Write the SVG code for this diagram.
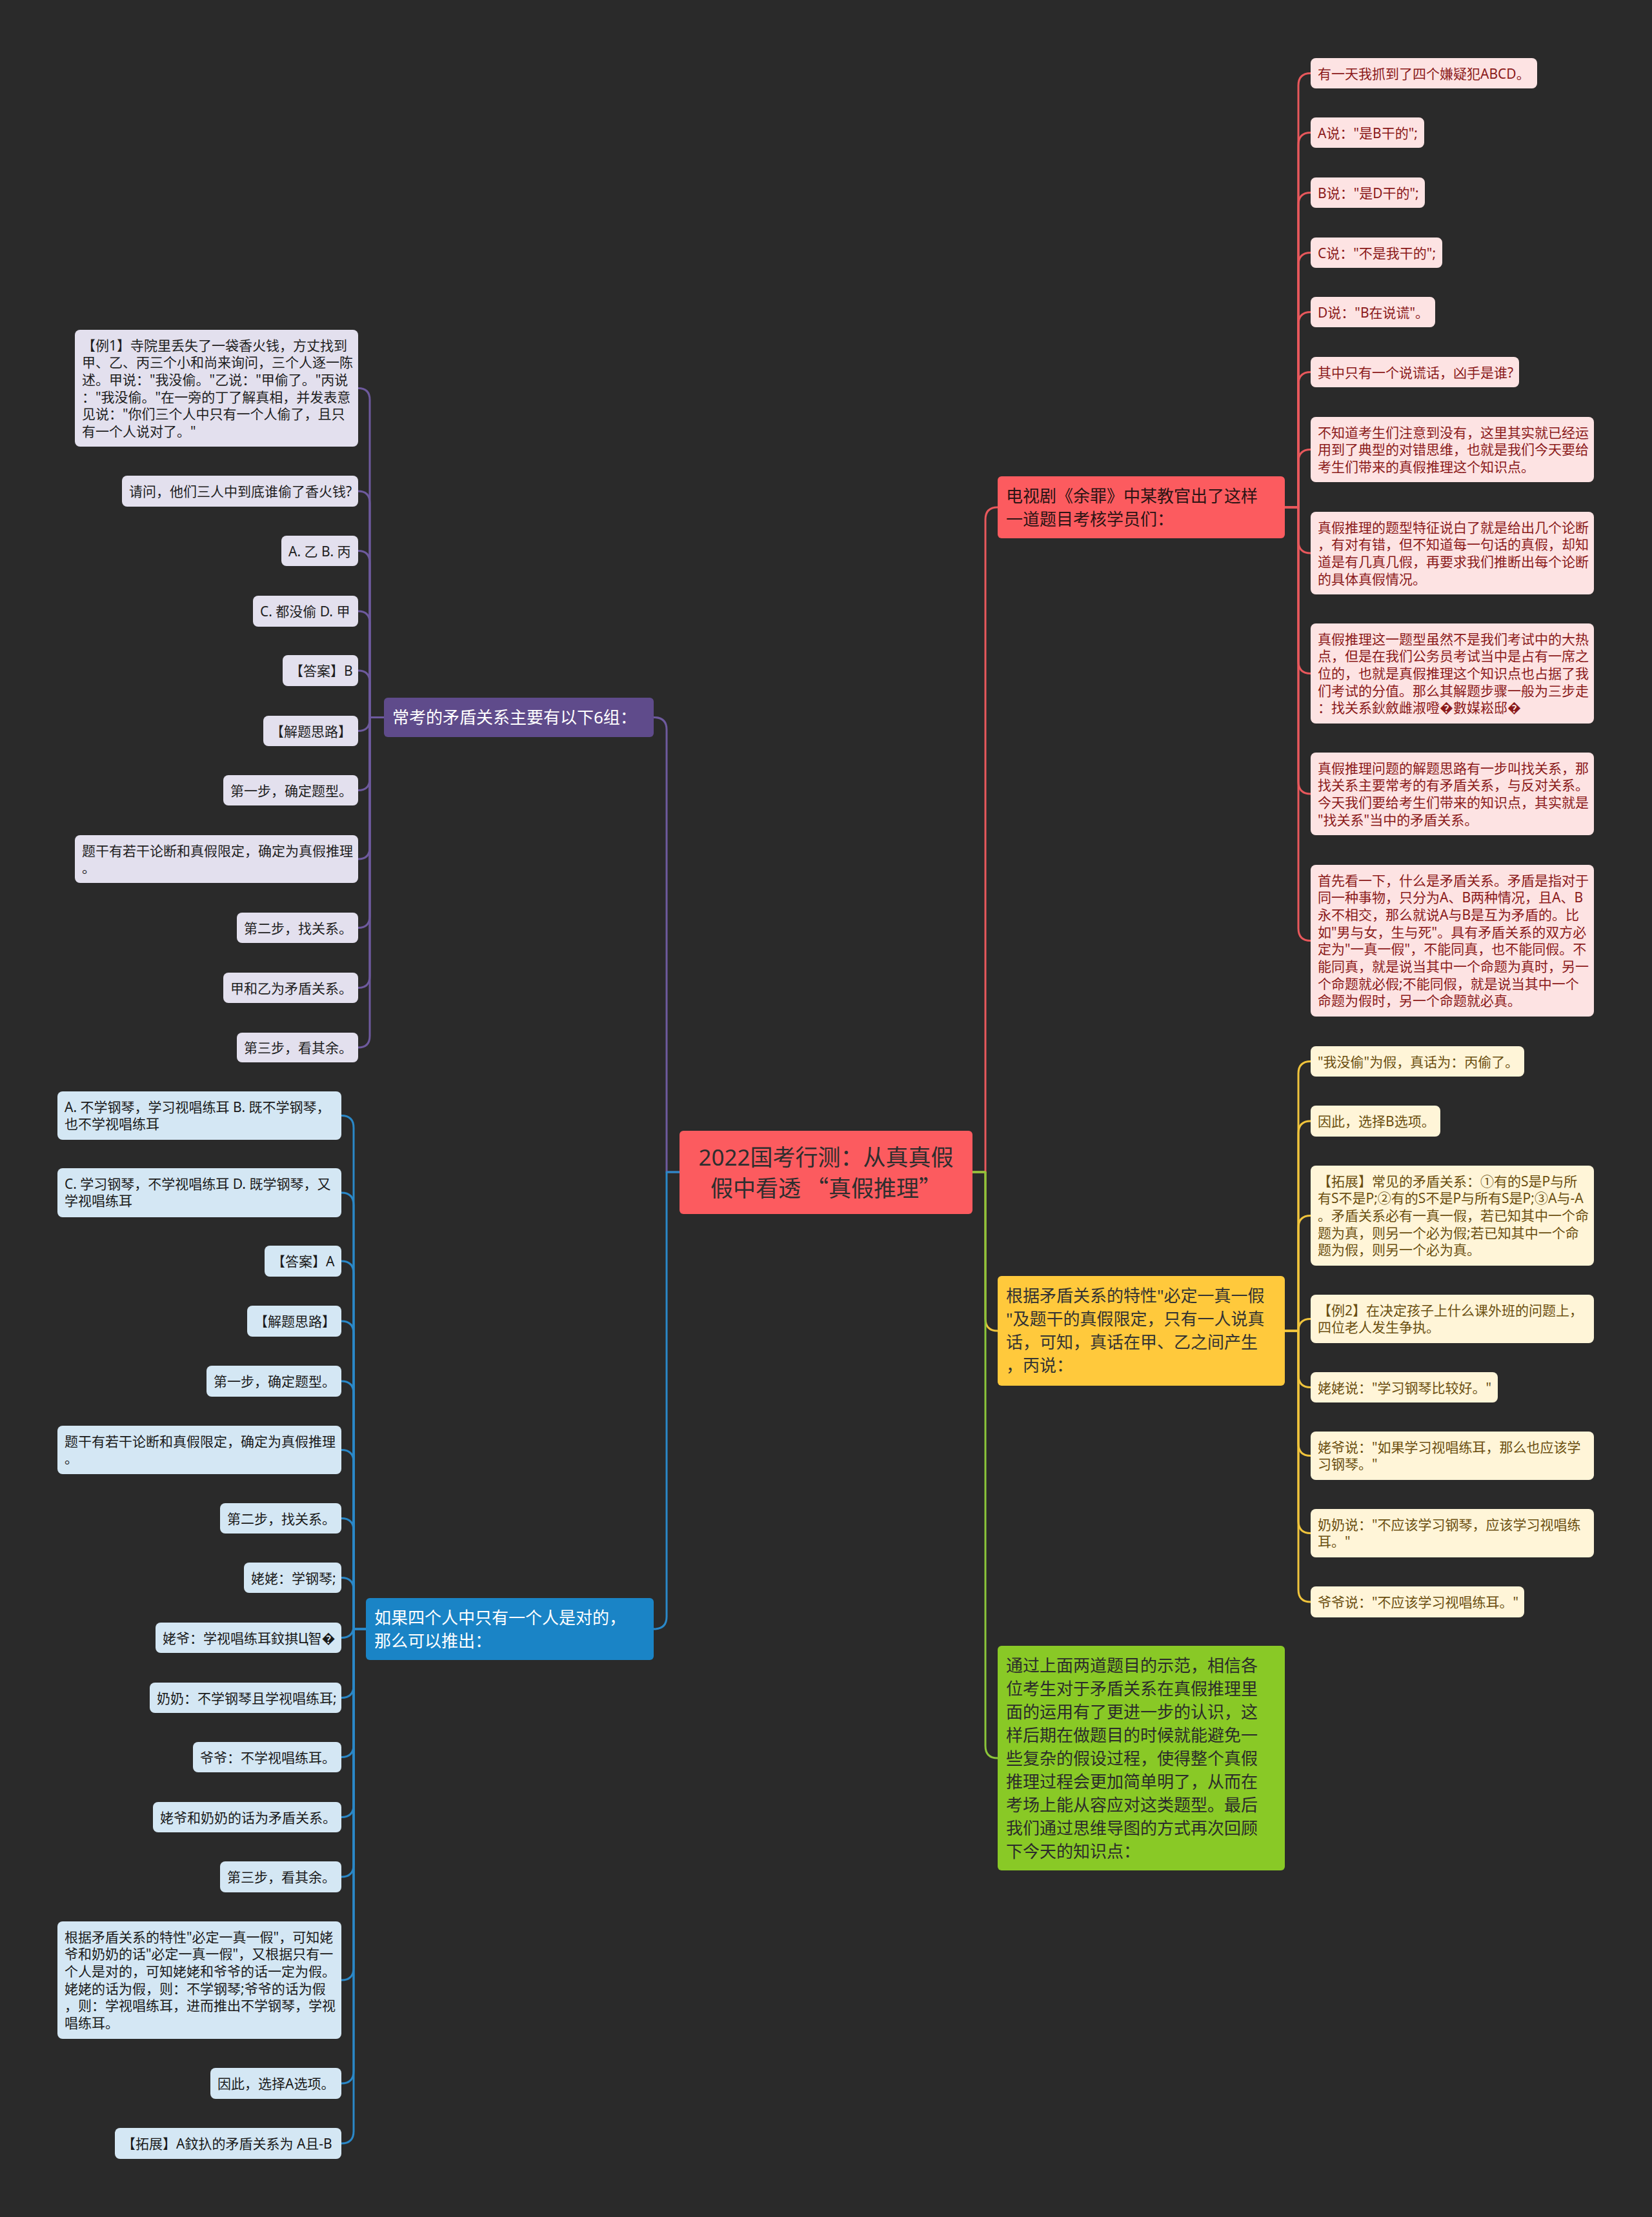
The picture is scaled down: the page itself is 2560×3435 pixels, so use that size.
<svg xmlns="http://www.w3.org/2000/svg" width="2560" height="3435" viewBox="0 0 2560 3435">
<style>
text{font-family:"Noto Sans","Noto Sans CJK SC",sans-serif;}
.lf{font-size:21px;}
.mn{font-size:26px;}
.ct{font-size:35px;fill:#2e2e2e;}
.cq{font-family:"Noto Sans CJK SC",sans-serif;}
.c{fill:none;stroke-width:3;stroke-linecap:round;stroke-linejoin:round;}
.cr{stroke:#E8585C;} .cy{stroke:#F0C43C;} .cg{stroke:#8CC63A;} .cp{stroke:#6E5A9E;} .cb{stroke:#2A88C8;}
.lr rect{fill:#FDE3E3;} .lr text{fill:#8B1A1A;}
.ly rect{fill:#FFF5D8;} .ly text{fill:#6B4F10;}
.lp rect{fill:#E3E0EE;} .lp text{fill:#1E1E1E;}
.lb rect{fill:#D4E7F4;} .lb text{fill:#1A1A1A;}
</style>
<rect width="2560" height="3435" fill="#2A2A2A"/>

<g id="connectors">
<path class="c cr" d="M1507 1816H1527V805Q1527 786 1546 786"/>
<path class="c cy" d="M1507 1816H1527V2043Q1527 2062 1546 2062"/>
<path class="c cg" d="M1507 1816H1527V2705Q1527 2724 1546 2724"/>
<path class="c cp" d="M1053 1816H1033V1130.5Q1033 1111.5 1013 1111.5"/>
<path class="c cb" d="M1053 1816H1033V2505Q1033 2524 1013 2524"/>

<path class="c cr" d="M1991 786H2012V132.5Q2012 113.5 2031 113.5"/>
<path class="c cr" d="M1991 786H2012V224.5Q2012 205.5 2031 205.5"/>
<path class="c cr" d="M1991 786H2012V317.5Q2012 298.5 2031 298.5"/>
<path class="c cr" d="M1991 786H2012V410.5Q2012 391.5 2031 391.5"/>
<path class="c cr" d="M1991 786H2012V502.5Q2012 483.5 2031 483.5"/>
<path class="c cr" d="M1991 786H2012V595.5Q2012 576.5 2031 576.5"/>
<path class="c cr" d="M1991 786H2012V715.5Q2012 696.5 2031 696.5"/>
<path class="c cr" d="M1991 786H2012V838Q2012 857 2031 857"/>
<path class="c cr" d="M1991 786H2012V1024.5Q2012 1043.5 2031 1043.5"/>
<path class="c cr" d="M1991 786H2012V1211Q2012 1230 2031 1230"/>
<path class="c cr" d="M1991 786H2012V1438.5Q2012 1457.5 2031 1457.5"/>

<path class="c cy" d="M1991 2062H2012V1663.5Q2012 1644.5 2031 1644.5"/>
<path class="c cy" d="M1991 2062H2012V1756Q2012 1737 2031 1737"/>
<path class="c cy" d="M1991 2062H2012V1902.5Q2012 1883.5 2031 1883.5"/>
<path class="c cy" d="M1991 2062H2012V2062.5Q2012 2043.5 2031 2043.5"/>
<path class="c cy" d="M1991 2062H2012V2130.5Q2012 2149.5 2031 2149.5"/>
<path class="c cy" d="M1991 2062H2012V2236.5Q2012 2255.5 2031 2255.5"/>
<path class="c cy" d="M1991 2062H2012V2356.5Q2012 2375.5 2031 2375.5"/>
<path class="c cy" d="M1991 2062H2012V2463Q2012 2482 2031 2482"/>

<path class="c cp" d="M595 1111.5H573V619.5Q573 601.5 555 601.5"/>
<path class="c cp" d="M595 1111.5H573V779Q573 761 555 761"/>
<path class="c cp" d="M595 1111.5H573V871.5Q573 853.5 555 853.5"/>
<path class="c cp" d="M595 1111.5H573V965Q573 947 555 947"/>
<path class="c cp" d="M595 1111.5H573V1057Q573 1039 555 1039"/>
<path class="c cp" d="M595 1111.5H573V1114.5Q573 1132.5 555 1132.5"/>
<path class="c cp" d="M595 1111.5H573V1206.5Q573 1224.5 555 1224.5"/>
<path class="c cp" d="M595 1111.5H573V1313Q573 1331 555 1331"/>
<path class="c cp" d="M595 1111.5H573V1419.5Q573 1437.5 555 1437.5"/>
<path class="c cp" d="M595 1111.5H573V1512.5Q573 1530.5 555 1530.5"/>
<path class="c cp" d="M595 1111.5H573V1605Q573 1623 555 1623"/>

<path class="c cb" d="M567 2524H548V1747.5Q548 1728.5 529 1728.5"/>
<path class="c cb" d="M567 2524H548V1867Q548 1848 529 1848"/>
<path class="c cb" d="M567 2524H548V1973Q548 1954 529 1954"/>
<path class="c cb" d="M567 2524H548V2066Q548 2047 529 2047"/>
<path class="c cb" d="M567 2524H548V2159Q548 2140 529 2140"/>
<path class="c cb" d="M567 2524H548V2265.5Q548 2246.5 529 2246.5"/>
<path class="c cb" d="M567 2524H548V2371.5Q548 2352.5 529 2352.5"/>
<path class="c cb" d="M567 2524H548V2463.5Q548 2444.5 529 2444.5"/>
<path class="c cb" d="M567 2524H548V2518.5Q548 2537.5 529 2537.5"/>
<path class="c cb" d="M567 2524H548V2611.5Q548 2630.5 529 2630.5"/>
<path class="c cb" d="M567 2524H548V2703.5Q548 2722.5 529 2722.5"/>
<path class="c cb" d="M567 2524H548V2796.5Q548 2815.5 529 2815.5"/>
<path class="c cb" d="M567 2524H548V2889Q548 2908 529 2908"/>
<path class="c cb" d="M567 2524H548V3049Q548 3068 529 3068"/>
<path class="c cb" d="M567 2524H548V3209Q548 3228 529 3228"/>
<path class="c cb" d="M567 2524H548V3302Q548 3321 529 3321"/>
</g>

<g id="center">
<rect x="1053" y="1752" width="454" height="129" rx="6" fill="#FC5B5F"/>
<text class="ct" x="1280" y="1806" text-anchor="middle">2022国考行测：从真真假</text>
<text class="ct cq" x="1280" y="1854" text-anchor="middle">假中看透 “真假推理”</text>
</g>

<g id="n-red">
<rect x="1546" y="738" width="445" height="96" rx="6" fill="#FC5B5F"/>
<text class="mn" x="1559" y="778" fill="#2B1414">电视剧《余罪》中某教官出了这样</text>
<text class="mn" x="1559" y="814" fill="#2B1414">一道题目考核学员们：</text>
</g>
<g id="n-yellow">
<rect x="1546" y="1977" width="445" height="170" rx="6" fill="#FFC93C"/>
<g class="mn" fill="#333">
<text x="1559" y="2017">根据矛盾关系的特性"必定一真一假</text>
<text x="1559" y="2053">"及题干的真假限定，只有一人说真</text>
<text x="1559" y="2089">话，可知，真话在甲、乙之间产生</text>
<text x="1559" y="2125">，丙说：</text>
</g>
</g>
<g id="n-green">
<rect x="1546" y="2550" width="445" height="348" rx="6" fill="#89C926"/>
<g class="mn" fill="#2B2B2B">
<text x="1559" y="2590">通过上面两道题目的示范，相信各</text>
<text x="1559" y="2626">位考生对于矛盾关系在真假推理里</text>
<text x="1559" y="2662">面的运用有了更进一步的认识，这</text>
<text x="1559" y="2698">样后期在做题目的时候就能避免一</text>
<text x="1559" y="2734">些复杂的假设过程，使得整个真假</text>
<text x="1559" y="2770">推理过程会更加简单明了，从而在</text>
<text x="1559" y="2806">考场上能从容应对这类题型。最后</text>
<text x="1559" y="2842">我们通过思维导图的方式再次回顾</text>
<text x="1559" y="2878">下今天的知识点：</text>
</g>
</g>
<g id="n-purple">
<rect x="595" y="1081" width="418" height="61" rx="6" fill="#5F4B8B"/>
<text class="mn" x="608" y="1121" fill="#FFFFFF">常考的矛盾关系主要有以下6组：</text>
</g>
<g id="n-blue">
<rect x="567" y="2476" width="446" height="96" rx="6" fill="#1A84C6"/>
<text class="mn" x="580" y="2516" fill="#FFFFFF">如果四个人中只有一个人是对的，</text>
<text class="mn" x="580" y="2552" fill="#FFFFFF">那么可以推出：</text>
</g>

<!-- red leaves -->
<g id="r1" class="lr lf"><rect x="2031" y="90" width="351" height="47" rx="8"/><text x="2042" y="121.5">有一天我抓到了四个嫌疑犯ABCD。</text></g>
<g id="r2" class="lr lf"><rect x="2031" y="182" width="176" height="47" rx="8"/><text x="2042" y="213.5">A说："是B干的";</text></g>
<g id="r3" class="lr lf"><rect x="2031" y="275" width="177" height="47" rx="8"/><text x="2042" y="306.5">B说："是D干的";</text></g>
<g id="r4" class="lr lf"><rect x="2031" y="368" width="204" height="47" rx="8"/><text x="2042" y="399.5">C说："不是我干的";</text></g>
<g id="r5" class="lr lf"><rect x="2031" y="460" width="193" height="47" rx="8"/><text x="2042" y="491.5">D说："B在说谎"。</text></g>
<g id="r6" class="lr lf"><rect x="2031" y="553" width="323" height="47" rx="8"/><text x="2042" y="584.5">其中只有一个说谎话，凶手是谁?</text></g>
<g id="r7" class="lr lf"><rect x="2031" y="646" width="439" height="101" rx="8"/>
<text x="2042" y="677.5">不知道考生们注意到没有，这里其实就已经运</text>
<text x="2042" y="704.2">用到了典型的对错思维，也就是我们今天要给</text>
<text x="2042" y="730.9">考生们带来的真假推理这个知识点。</text></g>
<g id="r8" class="lr lf"><rect x="2031" y="793" width="439" height="128" rx="8"/>
<text x="2042" y="824.5">真假推理的题型特征说白了就是给出几个论断</text>
<text x="2042" y="851.2">，有对有错，但不知道每一句话的真假，却知</text>
<text x="2042" y="877.9">道是有几真几假，再要求我们推断出每个论断</text>
<text x="2042" y="904.6">的具体真假情况。</text></g>
<g id="r9" class="lr lf"><rect x="2031" y="966" width="439" height="155" rx="8"/>
<text x="2042" y="997.5">真假推理这一题型虽然不是我们考试中的大热</text>
<text x="2042" y="1024.2">点，但是在我们公务员考试当中是占有一席之</text>
<text x="2042" y="1050.9">位的，也就是真假推理这个知识点也占据了我</text>
<text x="2042" y="1077.6">们考试的分值。那么其解题步骤一般为三步走</text>
<text x="2042" y="1104.3">：找关系鈥斂雌淑噔�數媒崧邸�</text></g>
<g id="r10" class="lr lf"><rect x="2031" y="1166" width="439" height="128" rx="8"/>
<text x="2042" y="1197.5">真假推理问题的解题思路有一步叫找关系，那</text>
<text x="2042" y="1224.2">找关系主要常考的有矛盾关系，与反对关系。</text>
<text x="2042" y="1250.9">今天我们要给考生们带来的知识点，其实就是</text>
<text x="2042" y="1277.6">"找关系"当中的矛盾关系。</text></g>
<g id="r11" class="lr lf"><rect x="2031" y="1340" width="439" height="235" rx="8"/>
<text x="2042" y="1371.5">首先看一下，什么是矛盾关系。矛盾是指对于</text>
<text x="2042" y="1398.2">同一种事物，只分为A、B两种情况，且A、B</text>
<text x="2042" y="1424.9">永不相交，那么就说A与B是互为矛盾的。比</text>
<text x="2042" y="1451.6">如"男与女，生与死"。具有矛盾关系的双方必</text>
<text x="2042" y="1478.3">定为"一真一假"，不能同真，也不能同假。不</text>
<text x="2042" y="1505">能同真，就是说当其中一个命题为真时，另一</text>
<text x="2042" y="1531.7">个命题就必假;不能同假，就是说当其中一个</text>
<text x="2042" y="1558.4">命题为假时，另一个命题就必真。</text></g>

<!-- yellow leaves -->
<g id="y1" class="ly lf"><rect x="2031" y="1621" width="331" height="47" rx="8"/><text x="2042" y="1652.5">"我没偷"为假，真话为：丙偷了。</text></g>
<g id="y2" class="ly lf"><rect x="2031" y="1713" width="201" height="48" rx="8"/><text x="2042" y="1745">因此，选择B选项。</text></g>
<g id="y3" class="ly lf"><rect x="2031" y="1806" width="439" height="155" rx="8"/>
<text x="2042" y="1837.5">【拓展】常见的矛盾关系：①有的S是P与所</text>
<text x="2042" y="1864.2">有S不是P;②有的S不是P与所有S是P;③A与-A</text>
<text x="2042" y="1890.9">。矛盾关系必有一真一假，若已知其中一个命</text>
<text x="2042" y="1917.6">题为真，则另一个必为假;若已知其中一个命</text>
<text x="2042" y="1944.3">题为假，则另一个必为真。</text></g>
<g id="y4" class="ly lf"><rect x="2031" y="2006" width="439" height="75" rx="8"/>
<text x="2042" y="2037.5">【例2】在决定孩子上什么课外班的问题上，</text>
<text x="2042" y="2064.2">四位老人发生争执。</text></g>
<g id="y5" class="ly lf"><rect x="2031" y="2126" width="290" height="47" rx="8"/><text x="2042" y="2157.5">姥姥说："学习钢琴比较好。"</text></g>
<g id="y6" class="ly lf"><rect x="2031" y="2218" width="439" height="75" rx="8"/>
<text x="2042" y="2249.5">姥爷说："如果学习视唱练耳，那么也应该学</text>
<text x="2042" y="2276.2">习钢琴。"</text></g>
<g id="y7" class="ly lf"><rect x="2031" y="2338" width="439" height="75" rx="8"/>
<text x="2042" y="2369.5">奶奶说："不应该学习钢琴，应该学习视唱练</text>
<text x="2042" y="2396.2">耳。"</text></g>
<g id="y8" class="ly lf"><rect x="2031" y="2458" width="331" height="48" rx="8"/><text x="2042" y="2490">爷爷说："不应该学习视唱练耳。"</text></g>

<!-- purple leaves -->
<g id="p1" class="lp lf"><rect x="116" y="511" width="439" height="181" rx="8"/>
<text x="127" y="542.5">【例1】寺院里丢失了一袋香火钱，方丈找到</text>
<text x="127" y="569.2">甲、乙、丙三个小和尚来询问，三个人逐一陈</text>
<text x="127" y="595.9">述。甲说："我没偷。"乙说："甲偷了。"丙说</text>
<text x="127" y="622.6">："我没偷。"在一旁的丁了解真相，并发表意</text>
<text x="127" y="649.3">见说："你们三个人中只有一个人偷了，且只</text>
<text x="127" y="676">有一个人说对了。"</text></g>
<g id="p2" class="lp lf"><rect x="189" y="737" width="366" height="48" rx="8"/><text x="200" y="769">请问，他们三人中到底谁偷了香火钱?</text></g>
<g id="p3" class="lp lf"><rect x="436" y="830" width="119" height="47" rx="8"/><text x="447" y="861.5">A. 乙 B. 丙</text></g>
<g id="p4" class="lp lf"><rect x="392" y="923" width="163" height="48" rx="8"/><text x="403" y="955">C. 都没偷 D. 甲</text></g>
<g id="p5" class="lp lf"><rect x="438" y="1015" width="117" height="48" rx="8"/><text x="449" y="1047">【答案】B</text></g>
<g id="p6" class="lp lf"><rect x="408" y="1109" width="147" height="47" rx="8"/><text x="419" y="1140.5">【解题思路】</text></g>
<g id="p7" class="lp lf"><rect x="346" y="1201" width="209" height="47" rx="8"/><text x="357" y="1232.5">第一步，确定题型。</text></g>
<g id="p8" class="lp lf"><rect x="116" y="1294" width="439" height="74" rx="8"/>
<text x="127" y="1325.5">题干有若干论断和真假限定，确定为真假推理</text>
<text x="127" y="1352.2">。</text></g>
<g id="p9" class="lp lf"><rect x="367" y="1414" width="188" height="47" rx="8"/><text x="378" y="1445.5">第二步，找关系。</text></g>
<g id="p10" class="lp lf"><rect x="346" y="1507" width="209" height="47" rx="8"/><text x="357" y="1538.5">甲和乙为矛盾关系。</text></g>
<g id="p11" class="lp lf"><rect x="367" y="1600" width="188" height="46" rx="8"/><text x="378" y="1631">第三步，看其余。</text></g>

<!-- blue leaves -->
<g id="b1" class="lb lf"><rect x="89" y="1691" width="440" height="75" rx="8"/>
<text x="100" y="1722.5">A. 不学钢琴，学习视唱练耳 B. 既不学钢琴，</text>
<text x="100" y="1749.2">也不学视唱练耳</text></g>
<g id="b2" class="lb lf"><rect x="89" y="1810" width="440" height="76" rx="8"/>
<text x="100" y="1841.5">C. 学习钢琴，不学视唱练耳 D. 既学钢琴，又</text>
<text x="100" y="1868.2">学视唱练耳</text></g>
<g id="b3" class="lb lf"><rect x="410" y="1930" width="119" height="48" rx="8"/><text x="421" y="1962">【答案】A</text></g>
<g id="b4" class="lb lf"><rect x="383" y="2023" width="146" height="48" rx="8"/><text x="394" y="2055">【解题思路】</text></g>
<g id="b5" class="lb lf"><rect x="320" y="2116" width="209" height="48" rx="8"/><text x="331" y="2148">第一步，确定题型。</text></g>
<g id="b6" class="lb lf"><rect x="89" y="2209" width="440" height="75" rx="8"/>
<text x="100" y="2240.5">题干有若干论断和真假限定，确定为真假推理</text>
<text x="100" y="2267.2">。</text></g>
<g id="b7" class="lb lf"><rect x="341" y="2329" width="188" height="47" rx="8"/><text x="352" y="2360.5">第二步，找关系。</text></g>
<g id="b8" class="lb lf"><rect x="378" y="2421" width="151" height="47" rx="8"/><text x="389" y="2452.5">姥姥：学钢琴;</text></g>
<g id="b9" class="lb lf"><rect x="241" y="2514" width="288" height="47" rx="8"/><text x="252" y="2545.5">姥爷：学视唱练耳鈫掑Ц智�</text></g>
<g id="b10" class="lb lf"><rect x="232" y="2607" width="297" height="47" rx="8"/><text x="243" y="2638.5">奶奶：不学钢琴且学视唱练耳;</text></g>
<g id="b11" class="lb lf"><rect x="299" y="2699" width="230" height="47" rx="8"/><text x="310" y="2730.5">爷爷：不学视唱练耳。</text></g>
<g id="b12" class="lb lf"><rect x="237" y="2792" width="292" height="47" rx="8"/><text x="248" y="2823.5">姥爷和奶奶的话为矛盾关系。</text></g>
<g id="b13" class="lb lf"><rect x="341" y="2884" width="188" height="48" rx="8"/><text x="352" y="2916">第三步，看其余。</text></g>
<g id="b14" class="lb lf"><rect x="89" y="2977" width="440" height="182" rx="8"/>
<text x="100" y="3008.5">根据矛盾关系的特性"必定一真一假"，可知姥</text>
<text x="100" y="3035.2">爷和奶奶的话"必定一真一假"，又根据只有一</text>
<text x="100" y="3061.9">个人是对的，可知姥姥和爷爷的话一定为假。</text>
<text x="100" y="3088.6">姥姥的话为假，则：不学钢琴;爷爷的话为假</text>
<text x="100" y="3115.3">，则：学视唱练耳，进而推出不学钢琴，学视</text>
<text x="100" y="3142">唱练耳。</text></g>
<g id="b15" class="lb lf"><rect x="326" y="3204" width="203" height="48" rx="8"/><text x="337" y="3236">因此，选择A选项。</text></g>
<g id="b16" class="lb lf"><rect x="178" y="3297" width="351" height="48" rx="8"/><text x="189" y="3329">【拓展】A鈫扖的矛盾关系为 A且-B</text></g>
</svg>
